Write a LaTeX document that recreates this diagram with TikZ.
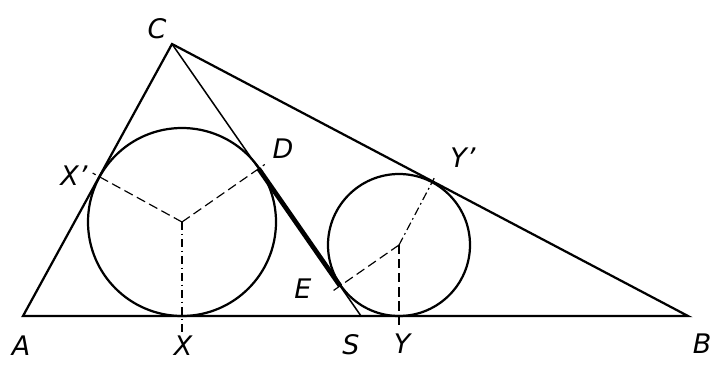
\documentclass[tikz,border=0pt]{standalone}
\usepackage{fontspec}
\setmainfont{DejaVu Sans}
\usepackage{tikz}
\usetikzlibrary{calc}

\begin{document}
\begin{tikzpicture}[x=0.03cm,y=-0.03cm,
  lbl/.style={font=\fontsize{23}{23}\selectfont\itshape,inner sep=0pt},
  side/.style={line width=1.9pt},
  ray/.style={line width=1pt,dash pattern=on 8pt off 4pt},
  drop/.style={line width=1pt,dash pattern=on 7pt off 3pt on 1.5pt off 3pt}]
\useasboundingbox (0,0) rectangle (716,365);
\coordinate (A) at (23,316);
\coordinate (B) at (688,316);
\coordinate (C) at (172,44);
\coordinate (S) at (361,316);
\coordinate (O1) at (182,222);
\coordinate (O2) at (399,245);
% points of contact
\coordinate (Xp) at ($(A)!(O1)!(C)$);
\coordinate (D) at ($(C)!(O1)!(S)$);
\coordinate (X) at ($(A)!(O1)!(B)$);
\coordinate (E) at ($(C)!(O2)!(S)$);
\coordinate (Yp) at ($(C)!(O2)!(B)$);
\coordinate (Y) at ($(A)!(O2)!(B)$);
\draw[side] (A) -- (C) -- (B) -- cycle;
\draw[line width=1.3pt] (C) -- (S);
\draw[line width=4pt] (D) -- (E);
\draw[side] (O1) circle[radius=94];
\draw[side] (O2) circle[radius=71];
\draw[ray] (O1) -- ($(O1)!1.08!(Xp)$);
\draw[ray] (O1) -- ($(O1)!1.08!(D)$);
\draw[drop] (O1) -- ($(O1)!1.18!(X)$);
\draw[ray] (O2) -- ($(O2)!1.12!(E)$);
\draw[drop] (O2) -- ($(O2)!1.05!(Yp)$);
\draw[ray] (O2) -- ($(O2)!1.13!(Y)$);
\node[lbl] (lC) at (157,29) {C};
\node[lbl] (lA) at (21,346) {A};
\node[lbl] (lX) at (183,346) {X};
\node[lbl] (lS) at (351,345) {S};
\node[lbl] (lY) at (402,344) {Y};
\node[lbl] (lB) at (702,344) {B};
\node[lbl] (lE) at (303,289) {E};
\node[lbl] (lD) at (283,149) {D};
\node[lbl] (lXp) at (74,176) {X’};
\node[lbl] (lYp) at (463,158) {Y’};
\end{tikzpicture}
\end{document}
